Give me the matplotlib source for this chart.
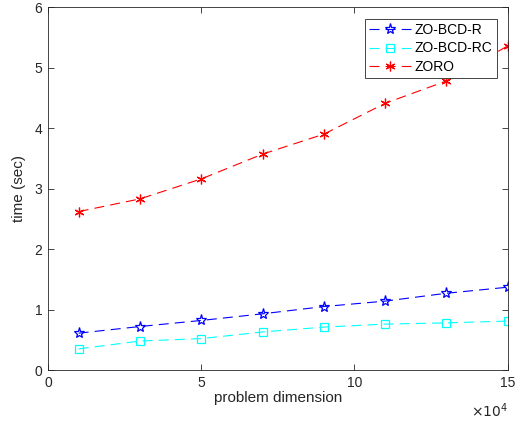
import numpy as np
import matplotlib
matplotlib.use('Agg')
import matplotlib.pyplot as plt

plt.rcParams['font.family'] = ['Liberation Sans', 'DejaVu Sans']

# problem dimension in units of 1e4
dims = [1, 3, 5, 7, 9, 11, 13, 15]
t_bcd_r = [0.61, 0.72, 0.82, 0.93, 1.05, 1.14, 1.27, 1.37]
t_bcd_rc = [0.35, 0.48, 0.52, 0.63, 0.71, 0.76, 0.78, 0.81]
t_zoro = [2.62, 2.83, 3.16, 3.57, 3.90, 4.41, 4.78, 5.36]

fig = plt.figure(figsize=(5.16, 4.21), dpi=100)
ax = fig.add_axes([0.093, 0.121, 0.891, 0.862])

dash = (0, (9, 5.5))
ax.plot(dims, t_bcd_r, color='#0000ff', linestyle=dash, lw=0.8, marker='*',
        ms=8, mfc='none', mew=0.9, label='ZO-BCD-R')
ax.plot(dims, t_bcd_rc, color='#00ffff', linestyle=dash, lw=0.8, marker='s',
        ms=5.5, mfc='none', mew=0.9, label='ZO-BCD-RC')
ax.plot(dims, t_zoro, color='#ff0000', linestyle=dash, lw=0.8, marker=(6, 2, 0),
        ms=7, mew=0.9, label='ZORO')

ax.set_xlim(0, 15)
ax.set_ylim(0, 6)
ax.set_xticks([0, 5, 10, 15])
ax.set_yticks(range(7))

grey = '#262626'
for s in ax.spines.values():
    s.set_color(grey)
    s.set_linewidth(0.6)
ax.tick_params(direction='in', top=True, right=True, length=4, width=0.6,
               colors=grey, labelsize=10, labelcolor=grey, pad=4)
ax.set_xlabel('problem dimension', fontsize=11, color=grey, labelpad=1)
ax.set_ylabel('time (sec)', fontsize=11, color=grey, labelpad=6)
ax.text(1.0, -0.085, r'$\times10^4$', transform=ax.transAxes, ha='right',
        va='top', fontsize=10, color=grey)

leg = ax.legend(loc='upper right', bbox_to_anchor=(0.976, 0.967), fontsize=10,
                fancybox=False, framealpha=1, edgecolor='#262626',
                borderaxespad=0, handlelength=3.0, labelspacing=0.3,
                borderpad=0.3, handletextpad=0.3)
leg.get_frame().set_linewidth(0.6)

fig.savefig('out.png', dpi=100)
